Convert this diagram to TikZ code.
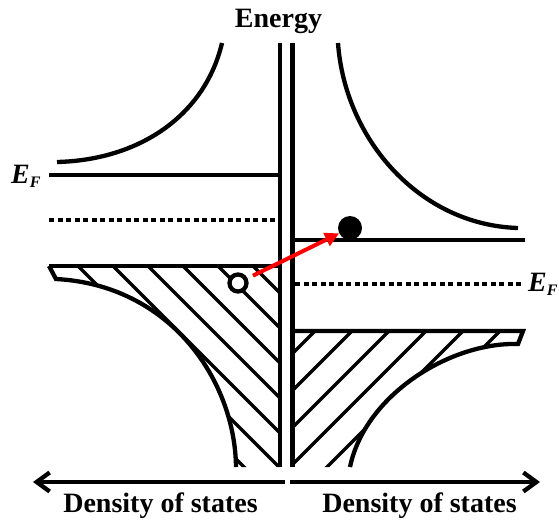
\documentclass[tikz,border=0pt]{standalone}
\usepackage{fontspec}
\setmainfont{Liberation Serif}
\usetikzlibrary{positioning,arrows.meta}

\begin{document}
\begin{tikzpicture}[
  x=1pt, y=-1pt,
  band/.style={line width=4.3pt},
  level/.style={line width=4.3pt, dash pattern=on 5pt off 3.5pt},
  hatch/.style={line width=3.5pt},
  axis/.style={line width=4.3pt, -{Straight Barb[length=13pt,width=19pt]}},
  transfer/.style={draw=red, line width=4pt, -{Triangle[length=14pt,width=14pt]},
                   shorten <=6pt},
  electron/.style={circle, fill=black, minimum size=24pt, inner sep=0pt},
  hole/.style={circle, draw=black, fill=white, line width=4.3pt, minimum size=17pt,
               inner sep=0pt},
  lbl/.style={font=\fontsize{28}{30}\selectfont\bfseries, inner sep=0pt, anchor=base},
  ef/.style={font=\fontsize{28}{28}\selectfont\bfseries\itshape, inner sep=0pt,
             anchor=base west},
]
\useasboundingbox (0,0) rectangle (559,519);

% ---- hatched (filled) states ----
\begin{scope}
  \clip (49,266) -- (280,266) -- (280,467) -- (236,467)
        .. controls (235,380) and (170,285) .. (56,279) -- cycle;
  \foreach \c in {253,218,...,-170}
    \draw[hatch] (\c,266) -- ++(260,260);
\end{scope}
\begin{scope}
  \clip (292,331) -- (523,331) -- (518,344)
        .. controls (450,342) and (365,395) .. (350,467) -- (292,467) -- cycle;
  \foreach \c in {278,315,...,660}
    \draw[hatch] (\c,331) -- ++(-200,200);
\end{scope}

% ---- density of states curves ----
\draw[band] (57,162) .. controls (140,160) and (205,115) .. (222,43);
\draw[band] (338,43) .. controls (345,140) and (420,225) .. (518,228);
\draw[band] (49,266) -- (280,266);
\draw[band] (49,266) -- (56,279) .. controls (170,285) and (235,380) .. (236,467);
\draw[band] (292,331) -- (523,331) -- (518,344)
            .. controls (450,342) and (365,395) .. (350,467);

% ---- energy axes ----
\draw[band] (280,43) -- (280,467);
\draw[band] (292.5,43) -- (292.5,467);
\node[lbl] (energy) at (278.5,28) {Energy};

% ---- levels ----
\draw[band] (49,175) -- (280,175);
\draw[level] (49,220) -- (280,220);
\draw[band] (292,240) -- (525,240);
\draw[level] (295,284) -- (523,284);
\node[ef] (efl) at (11,183) {E\raisebox{-4pt}{\fontsize{16}{16}\selectfont F}};
\node[ef] (efr) at (528,291) {E\raisebox{-4pt}{\fontsize{16}{16}\selectfont F}};

% ---- charge transfer ----
\node[hole] (hole) at (238,283) {};
\node[electron] (elec) at (350,228) {};
\draw[transfer] (hole) -- (elec);

% ---- density axes ----
\coordinate (dl0) at (285,482);
\coordinate (dl1) at (33,482);
\coordinate (dr0) at (290,482);
\coordinate (dr1) at (540,482);
\draw[axis] (dl0) -- (dl1);
\draw[axis] (dr0) -- (dr1);
\node[lbl] (dosl) at (160.5,512) {Density of states};
\node[lbl] (dosr) at (419.5,512) {Density of states};

\end{tikzpicture}
\end{document}
